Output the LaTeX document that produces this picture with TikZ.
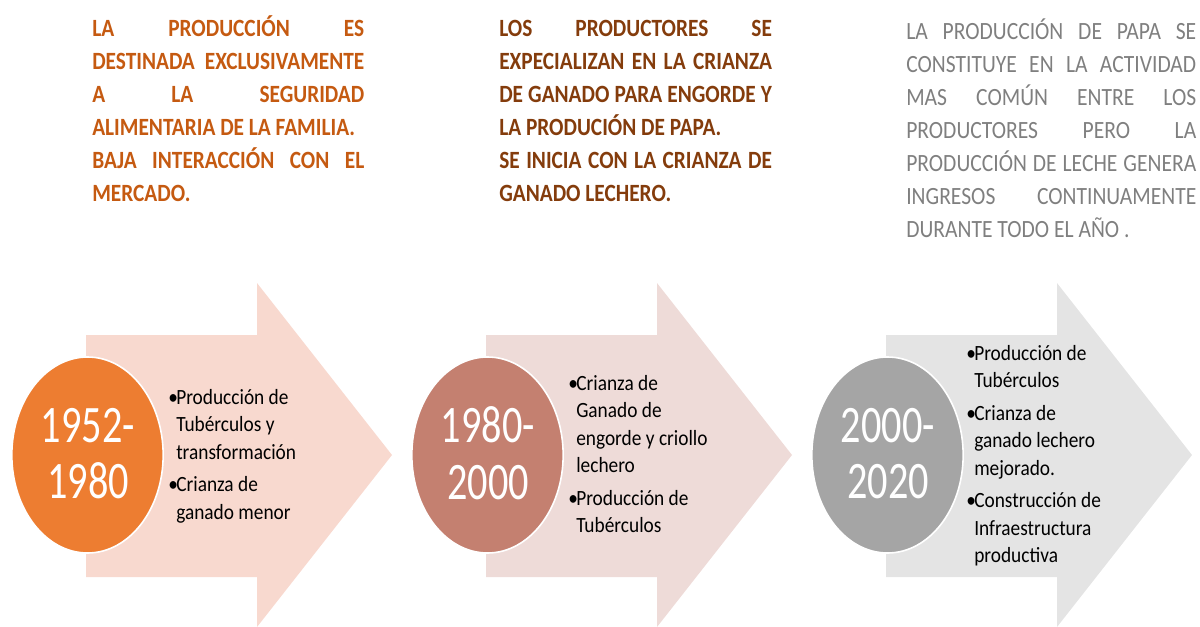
\documentclass[tikz,border=0pt]{standalone}
\usepackage{fontspec}
\setmainfont{Carlito}
\newfontfamily\yearfont[FakeStretch=0.765]{Carlito}
\newfontfamily\bulfont[FakeStretch=0.89]{Carlito}
\newfontfamily\topfont[FakeStretch=0.86]{Carlito}
\newfontfamily\topfontC[FakeStretch=0.87]{Carlito}
\usetikzlibrary{shapes.geometric}
\definecolor{cOrange}{HTML}{ED7D31}
\definecolor{cArrowA}{HTML}{F8D9CF}
\definecolor{cBrown}{HTML}{C48070}
\definecolor{cArrowB}{HTML}{EEDBD8}
\definecolor{cGray}{HTML}{A5A5A5}
\definecolor{cArrowC}{HTML}{E4E4E4}
\definecolor{tOne}{HTML}{C55A11}
\definecolor{tTwo}{HTML}{843C0C}
\definecolor{tThree}{HTML}{7F7F7F}
\newcommand{\jl}[2]{\makebox[#1][s]{#2}}
\newcommand{\bl}{\makebox[6pt][l]{•}}
\newcommand{\ind}{\hspace*{6pt}}
\begin{document}
\begin{tikzpicture}[x=0.75pt,y=-0.75pt,
  yearcircle/.style={ellipse, draw=white, line width=1.2pt, minimum width=113.5pt, minimum height=147pt, inner sep=0pt},
  yeartext/.style={text=white, align=center, font=\yearfont\fontsize{39.5}{42.5}\selectfont, inner sep=0pt},
  bullettext/.style={align=left, anchor=base west, inner sep=0pt, font=\bulfont\fontsize{16.3}{20.6}\selectfont},
  toptext/.style={align=left, anchor=base west, inner sep=0pt, font=\topfont\bfseries\fontsize{18.6}{24.75}\selectfont},
  toptextC/.style={align=left, anchor=base west, inner sep=0pt, font=\topfontC\fontsize{18.6}{24.75}\selectfont}
]
\useasboundingbox (0,0) rectangle (1200,626);
% arrows
\fill[cArrowA] (86,335) -- (257,335) -- (257,283) -- (392,455) -- (257,627) -- (257,577) -- (86,577) -- cycle;
\fill[cArrowB] (486,335) -- (657,335) -- (657,283) -- (792,455) -- (657,627) -- (657,577) -- (486,577) -- cycle;
\fill[cArrowC] (886,335) -- (1057,335) -- (1057,283) -- (1192,455) -- (1057,627) -- (1057,577) -- (886,577) -- cycle;
% circles
\node[yearcircle, fill=cOrange] (c1) at (87.5,455) {};
\node[yearcircle, fill=cBrown] (c2) at (487.5,455) {};
\node[yearcircle, fill=cGray] (c3) at (887.5,455) {};
\node[yeartext] (y1) at (88,453.5) {1952-\\1980};
\node[yeartext] (y2) at (488,453.5) {1980-\\2000};
\node[yeartext] (y3) at (888,453.5) {2000-\\2020};
% bullets
\node[bullettext] (b1) at (168,519) {\bl Producción de\\\ind Tubérculos y\\\ind transformación\\[3.75pt]\bl Crianza de\\\ind ganado menor};
\node[bullettext] (b2) at (568,532.5) {\bl Crianza de\\\ind Ganado de\\\ind engorde y criollo\\\ind lechero\\[3.75pt]\bl Producción de\\\ind Tubérculos};
\node[bullettext] (b3) at (966,562.5) {\bl Producción de\\\ind Tubérculos\\[3.75pt]\bl Crianza de\\\ind ganado lechero\\\ind mejorado.\\[3.75pt]\bl Construcción de\\\ind Infraestructura\\\ind productiva};
% top texts
\node[toptext, text=tOne] (t1) at (92,201.7) {\jl{204pt}{LA PRODUCCIÓN ES}\\\jl{204pt}{DESTINADA EXCLUSIVAMENTE}\\\jl{204pt}{A LA SEGURIDAD}\\ALIMENTARIA DE LA FAMILIA.\\\jl{204pt}{BAJA INTERACCIÓN CON EL}\\MERCADO.};
\node[toptext, text=tTwo] (t2) at (499,201.7) {\jl{204.5pt}{LOS PRODUCTORES SE}\\\jl{204.5pt}{EXPECIALIZAN EN LA CRIANZA}\\\jl{204.5pt}{DE GANADO PARA ENGORDE Y}\\LA PRODUCIÓN DE PAPA.\\\jl{204.5pt}{SE INICIA CON LA CRIANZA DE}\\GANADO LECHERO.};
\node[toptextC, text=tThree] (t3) at (906,237) {\jl{217.5pt}{LA PRODUCCIÓN DE PAPA SE}\\\jl{217.5pt}{CONSTITUYE EN LA ACTIVIDAD}\\\jl{217.5pt}{MAS COMÚN ENTRE LOS}\\\jl{217.5pt}{PRODUCTORES PERO LA}\\\jl{217.5pt}{PRODUCCIÓN DE LECHE GENERA}\\\jl{217.5pt}{INGRESOS CONTINUAMENTE}\\DURANTE TODO EL AÑO .};
\end{tikzpicture}
\end{document}
